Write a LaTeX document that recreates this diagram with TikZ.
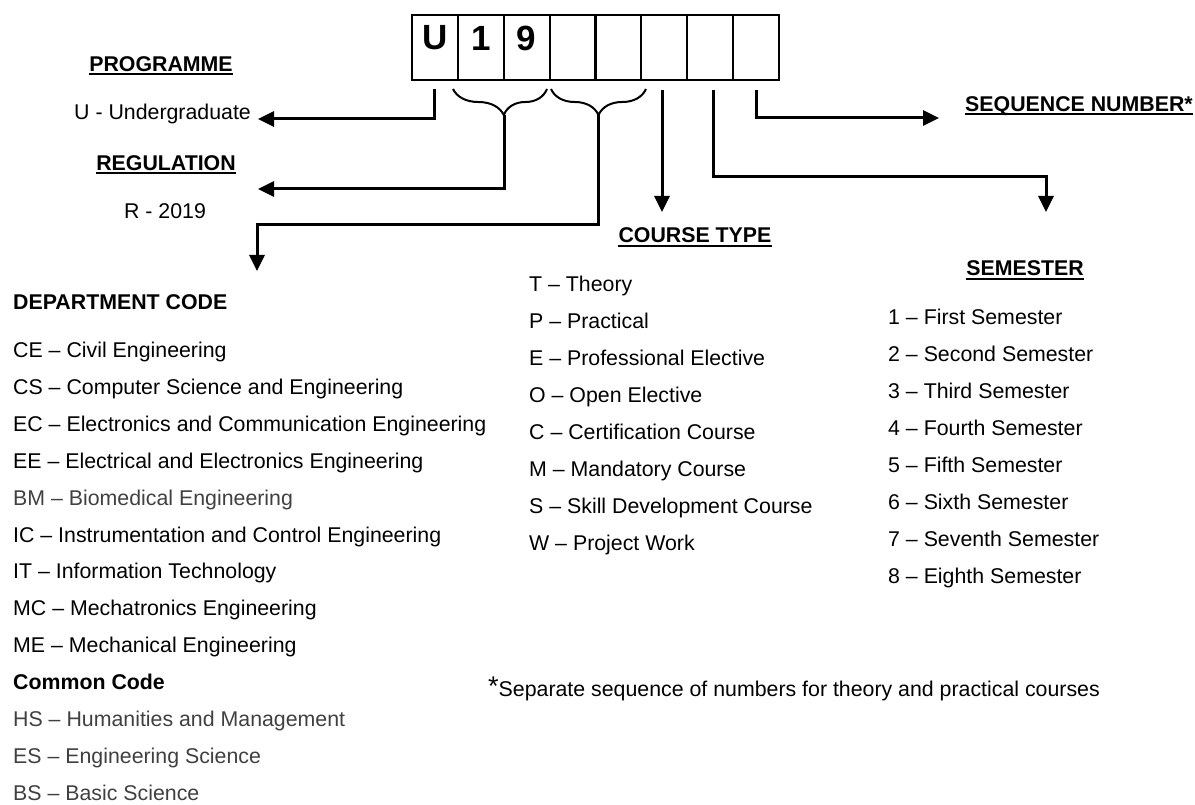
\documentclass[tikz,border=0pt]{standalone}
\usepackage{fontspec}
\setmainfont{Liberation Sans}
\usetikzlibrary{arrows.meta,decorations.pathreplacing,calc}
\definecolor{softgray}{RGB}{64,64,64}
\begin{document}
\begin{tikzpicture}[x=1pt,y=-1pt,
  txt/.style={inner sep=0pt,anchor=base west,font=\fontsize{21.33}{25}\selectfont},
  hd/.style={inner sep=0pt,anchor=base,font=\fontsize{21.33}{25}\selectfont\bfseries},
  hdl/.style={inner sep=0pt,anchor=base west,font=\fontsize{21.33}{25}\selectfont\bfseries},
  cell/.style={draw,line width=2pt,minimum width=45.9pt,minimum height=65pt,inner sep=0pt},
  big/.style={inner sep=0pt,anchor=base,font=\fontsize{35}{40}\selectfont\bfseries},
  conn/.style={line width=3pt,-{Triangle[length=16pt,width=15pt]}},
  ulin/.style={line width=2pt},
  brc/.style={line width=2pt,decorate,decoration={brace,mirror,amplitude=26pt}}
]
\useasboundingbox (0,0) rectangle (1195,805);

% code boxes
\foreach \i in {1,...,8}{
  \node[cell] (c\i) at ({412+45.875*(\i-0.5)},47.5) {};
}
\node[big] (lu) at (c1 |- 0,50) {U};
\node[big] (l1) at (c2 |- 0,50.5) {1};
\node[big] (l9) at (c3 |- 0,50.5) {9};

% braces
\draw[brc,decoration={aspect=0.54}] (453,89) -- (547,89);
\draw[brc] (551,89) -- (646,89);
\coordinate (b1) at (504,115);
\coordinate (b2) at (598.5,115);

% start points
\coordinate (p0) at (434,89);
\coordinate (ct0) at (662,90);
\coordinate (sm0) at (713,90);
\coordinate (sq0) at (756,90);

% end points
\coordinate (pu) at (258,119);
\coordinate (rg) at (258,189);
\coordinate (dk) at (257,225);
\coordinate (dct) at (257,271);
\coordinate (ct1) at (662,212);
\coordinate (smk) at (1046,177);
\coordinate (sm1) at (1046,212);
\coordinate (sq1) at (939,118);

\draw[conn] (p0) |- (pu);
\draw[conn] (b1) |- (rg);
\draw[conn] (b2) |- (dk) -- (dct);
\draw[conn] (ct0) -- (ct1);
\draw[conn] (sm0) |- (smk) -- (sm1);
\draw[conn] (sq0) |- (sq1);

% headings
\node[hd] (hprog) at (161,71.7) {PROGRAMME};
\draw[ulin] ([yshift=-2.8pt]hprog.base west) -- ([yshift=-2.8pt]hprog.base east);
\node[txt] (tug) at (74,119.5) {U - Undergraduate};
\node[hd] (hreg) at (166,170.7) {REGULATION};
\draw[ulin] ([yshift=-2.8pt]hreg.base west) -- ([yshift=-2.8pt]hreg.base east);
\node[txt,anchor=base] (treg) at (165,219) {R - 2019};
\node[hd] (hct) at (695,243) {COURSE TYPE};
\draw[ulin] ([yshift=-2.8pt]hct.base west) -- ([yshift=-2.8pt]hct.base east);
\node[hd] (hsem) at (1025,276) {SEMESTER};
\draw[ulin] ([yshift=-2.8pt]hsem.base west) -- ([yshift=-2.8pt]hsem.base east);
\node[hdl] (hseq) at (965,111.7) {SEQUENCE NUMBER*};
\draw[ulin] ([yshift=-2.8pt]hseq.base west) -- ([yshift=-2.8pt]hseq.base east);
\node[hdl] (hdep) at (13,310) {DEPARTMENT CODE};

% department list
\node[txt] (d1) at (13,357.5) {CE – Civil Engineering};
\node[txt] (d2) at (13,394.4) {CS – Computer Science and Engineering};
\node[txt] (d3) at (13,431.3) {EC – Electronics and Communication Engineering};
\node[txt] (d4) at (13,468.2) {EE – Electrical and Electronics Engineering};
\node[txt,text=softgray] (d5) at (13,505.1) {BM – Biomedical Engineering};
\node[txt] (d6) at (13,542) {IC – Instrumentation and Control Engineering};
\node[txt] (d7) at (13,578.9) {IT – Information Technology};
\node[txt] (d8) at (13,615.8) {MC – Mechatronics Engineering};
\node[txt] (d9) at (13,652.7) {ME – Mechanical Engineering};
\node[hdl] (hcc) at (13,689.6) {Common Code};
\node[txt,text=softgray] (d10) at (13,726.5) {HS – Humanities and Management};
\node[txt,text=softgray] (d11) at (13,763.4) {ES – Engineering Science};
\node[txt,text=softgray] (d12) at (13,800.3) {BS – Basic Science};

% course type list
\node[txt] (t1) at (529,292) {T – Theory};
\node[txt] (t2) at (529,328.9) {P – Practical};
\node[txt] (t3) at (529,365.8) {E – Professional Elective};
\node[txt] (t4) at (529,402.7) {O – Open Elective};
\node[txt] (t5) at (529,439.6) {C – Certification Course};
\node[txt] (t6) at (529,476.5) {M – Mandatory Course};
\node[txt] (t7) at (529,513.4) {S – Skill Development Course};
\node[txt] (t8) at (529,550.3) {W – Project Work};

% semester list
\node[txt] (s1) at (888,324) {1 – First Semester};
\node[txt] (s2) at (888,361) {2 – Second Semester};
\node[txt] (s3) at (888,398) {3 – Third Semester};
\node[txt] (s4) at (888,435) {4 – Fourth Semester};
\node[txt] (s5) at (888,472) {5 – Fifth Semester};
\node[txt] (s6) at (888,509) {6 – Sixth Semester};
\node[txt] (s7) at (888,546) {7 – Seventh Semester};
\node[txt] (s8) at (888,583) {8 – Eighth Semester};

% footnote
\node[txt] (fn) at (488,696) {\raisebox{1pt}{\fontsize{27}{30}\selectfont *}Separate sequence of numbers for theory and practical courses};
\end{tikzpicture}
\end{document}
